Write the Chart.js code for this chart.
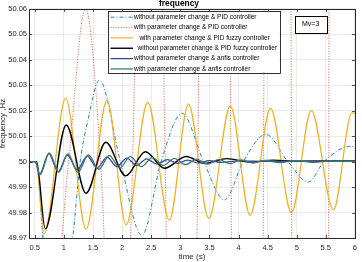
<!DOCTYPE html>
<html><head><meta charset="utf-8">
<script src="https://cdn.jsdelivr.net/npm/chart.js@4/dist/chart.umd.min.js"></script>
<style>html,body{margin:0;padding:0;background:#fff;overflow:hidden}</style>
</head><body>
<canvas id="c" width="362" height="262"></canvas>
<script>
// ---- data ----
const seriesNames = [
  'without parameter change & PID controller',
  'with parameter change & PID controller',
  '   with parameter change & PID fuzzy controller',
  '  without parameter change & PID fuzzy controller',
  'without parameter change & anfis controller',
  'with parameter change & anfis controller'
];
const xTicks = [0.5, 1, 1.5, 2, 2.5, 3, 3.5, 4, 4.5, 5, 5.5, 6];
const yTicks = [49.97, 49.98, 49.99, 50, 50.01, 50.02, 50.03, 50.04, 50.05, 50.06];
const noteText = 'Mv=3';

// without parameter change & PID controller
const t1 = [0.4, 0.53, 0.64, 0.9, 1.15, 1.28, 1.41, 1.61, 1.97, 2.34, 2.67, 3.03, 3.4, 3.76, 4.08, 4.47, 4.85, 5.2, 5.47, 5.92, 6.0];
const v1 = [50, 50, 49.97, 49.935, 49.97, 50, 50.016, 50.032, 50, 49.971, 50, 50.019, 50, 49.985, 50, 50.0107, 50, 49.992, 50, 50.006, 50.0058];
// with parameter change & PID controller
const t2 = [0.4, 0.5, 0.8, 1.08, 1.37, 1.63, 1.93, 2.18, 2.45, 2.74, 3.02, 3.3, 3.58, 3.87, 4.15, 4.43, 4.67, 4.91, 5.23, 5.55, 5.8, 6.0];
const v2 = [50, 50, 49.94, 50, 50.06, 50, 49.85, 50, 50.3, 50, 49.5, 50, 50.8, 50, 48.8, 50, 51.6, 50, 47.8, 50, 53, 51];
// with parameter change & PID fuzzy controller
const t3 = [0.4, 0.52, 0.66, 1.03, 1.38, 1.74, 2.07, 2.44, 2.81, 3.14, 3.49, 3.86, 4.2, 4.55, 4.91, 5.25, 5.63, 5.95, 6.0];
const v3 = [50, 50, 49.9717, 50.0249, 49.9735, 50.0242, 49.9752, 50.0233, 49.977, 50.0226, 49.9777, 50.0218, 49.979, 50.0209, 49.98, 50.02, 49.981, 50.0192, 50.019];
// without parameter change & PID fuzzy controller
const t4 = [0.4, 0.53, 0.68, 1.04, 1.38, 1.72, 2.06, 2.4, 2.73, 3.1, 3.42, 3.8, 4.2, 4.6, 5.0, 6.0];
const v4 = [50, 50, 49.9736, 50.0144, 49.9876, 50.0076, 49.9944, 50.0039, 49.9974, 50.002, 49.9993, 50.0012, 49.9998, 50.0006, 50.0002, 50.0003];
// without parameter change & anfis controller
const t5 = [0.4, 0.51, 0.58, 0.74, 0.9, 1.06, 1.23, 1.4, 1.57, 1.74, 1.91, 2.08, 2.25, 2.42, 2.6, 2.78, 2.95, 3.12, 3.3, 3.5, 3.7, 4.0, 4.5, 5.0, 6.0];
const v5 = [50, 50, 49.995, 50.0032, 49.996, 50.0026, 49.9968, 50.0022, 49.9975, 50.0018, 49.998, 50.0014, 49.9985, 50.0011, 49.999, 50.0008, 49.9993, 50.0006, 49.9995, 50.0004, 49.9997, 50.0003, 50.0001, 50.0002, 50.0001];
// with parameter change & anfis controller
const t6 = [0.4, 0.51, 0.59, 0.75, 0.91, 1.07, 1.24, 1.42, 1.6, 1.78, 1.96, 2.14, 2.33, 2.52, 2.71, 2.9, 3.09, 3.28, 3.47, 3.66, 3.85, 4.05, 4.25, 4.45, 4.7, 5.0, 5.3, 5.6, 6.0];
const v6 = [50, 50, 49.9948, 50.0034, 49.9958, 50.003, 49.9958, 50.0026, 49.997, 50.0024, 49.9975, 50.002, 49.998, 50.0016, 49.9985, 50.0013, 49.9988, 50.001, 49.999, 50.0009, 49.9992, 50.0007, 49.9994, 50.0005, 49.9996, 50.0004, 49.9997, 50.0003, 50.0001];

const times = [t1, t2, t3, t4, t5, t6];
const values = [v1, v2, v3, v4, v5, v6];

// ---- styles ----
const colors = ['#2a7fc4', '#d9603a', '#edb120', '#000000', '#34479a', '#3d7d6b'];
const widths = [1, 1, 1.2, 1.4, 1.3, 1.3];
const dashes = [[4, 2, 1, 2], [1, 1.6], [], [], [], []];
const FONT = '"Liberation Sans", Arial, sans-serif';

const datasets = seriesNames.map((name, i) => ({
  label: name,
  data: times[i].map((t, k) => ({ x: t, y: values[i][k] })),
  borderColor: colors[i],
  backgroundColor: colors[i],
  borderWidth: widths[i],
  borderDash: dashes[i],
  pointRadius: 0,
  fill: false,
  cubicInterpolationMode: 'monotone',
  order: 5 - i
}));

const decor = {
  id: 'decor',
  afterDraw(chart) {
    const { ctx, chartArea: ca, scales } = chart;
    ctx.save();
    // inward ticks
    ctx.strokeStyle = '#262626';
    ctx.lineWidth = 0.8;
    ctx.beginPath();
    xTicks.forEach(v => {
      const px = Math.round(scales.x.getPixelForValue(v)) + 0.5;
      ctx.moveTo(px, ca.bottom); ctx.lineTo(px, ca.bottom - 3);
      ctx.moveTo(px, ca.top); ctx.lineTo(px, ca.top + 3);
    });
    yTicks.forEach(v => {
      const py = Math.round(scales.y.getPixelForValue(v)) + 0.5;
      ctx.moveTo(ca.left, py); ctx.lineTo(ca.left + 3, py);
      ctx.moveTo(ca.right, py); ctx.lineTo(ca.right - 3, py);
    });
    ctx.stroke();
    // axes box
    ctx.lineWidth = 1;
    ctx.strokeRect(Math.round(ca.left) + 0.5, Math.round(ca.top) + 0.5,
      Math.round(ca.right - ca.left), Math.round(ca.bottom - ca.top));

    // legend
    const lx = ca.left + 78.5, ly = ca.top + 2, lw = 171.5, lh = 61.5;
    ctx.fillStyle = '#fff';
    ctx.fillRect(lx, ly, lw, lh);
    ctx.strokeStyle = '#000';
    ctx.lineWidth = 0.8;
    ctx.strokeRect(Math.round(lx) + 0.5, Math.round(ly) + 0.5, Math.round(lw), Math.round(lh));
    ctx.font = '6.5px ' + FONT;
    ctx.textBaseline = 'middle';
    ctx.textAlign = 'left';
    chart.data.datasets.forEach((ds, i) => {
      const ry = ly + 6.3 + i * 10.35;
      ctx.strokeStyle = ds.borderColor;
      ctx.lineWidth = ds.borderWidth;
      ctx.setLineDash(ds.borderDash || []);
      ctx.beginPath();
      ctx.moveTo(lx + 3, ry); ctx.lineTo(lx + 25.5, ry);
      ctx.stroke();
      ctx.setLineDash([]);
      ctx.fillStyle = '#000';
      ctx.fillText(ds.label, lx + 26.5, ry);
    });

    // note box
    const nx = ca.right - 60, ny = ca.top + 7, nw = 31.5, nh = 17;
    ctx.fillStyle = '#fff';
    ctx.fillRect(nx, ny, nw, nh);
    ctx.strokeStyle = '#000';
    ctx.lineWidth = 1;
    ctx.strokeRect(Math.round(nx) + 0.5, Math.round(ny) + 0.5, Math.round(nw), Math.round(nh));
    ctx.fillStyle = '#000';
    ctx.font = '7px ' + FONT;
    ctx.textAlign = 'center';
    ctx.fillText(noteText, nx + nw / 2, ny + nh / 2);
    ctx.restore();
  }
};

new Chart(document.getElementById('c'), {
  type: 'line',
  data: { datasets },
  plugins: [decor],
  options: {
    responsive: false,
    animation: false,
    devicePixelRatio: 1,
    layout: { padding: { left: 0, right: 4, top: 0, bottom: 0 } },
    plugins: {
      legend: { display: false },
      tooltip: { enabled: false },
      title: {
        display: true,
        text: 'frequency',
        color: '#000',
        font: { family: FONT, size: 8.4, weight: 'bold', lineHeight: 1 },
        padding: { top: -1, bottom: 1.5 }
      }
    },
    scales: {
      x: {
        type: 'linear',
        min: 0.4,
        max: 6,
        afterBuildTicks: s => { s.ticks = xTicks.map(v => ({ value: v })); },
        afterFit: s => { s.height = 24; },
        ticks: {
          autoSkip: false, maxRotation: 0, padding: 5, color: '#262626',
          font: { family: FONT, size: 7.5 },
          callback: v => String(v)
        },
        grid: { color: '#e4e4e4', lineWidth: 0.8, drawTicks: false },
        border: { display: false },
        title: {
          display: true, text: 'time (s)', color: '#262626',
          font: { family: FONT, size: 8 }, padding: { top: 0, bottom: 0 }
        }
      },
      y: {
        type: 'linear',
        min: 49.97,
        max: 50.06,
        afterBuildTicks: s => { s.ticks = yTicks.map(v => ({ value: v })); },
        afterFit: s => { s.width = 29; },
        ticks: {
          autoSkip: false, padding: 2, color: '#262626',
          font: { family: FONT, size: 7.5 },
          callback: v => String(Math.round(v * 100) / 100)
        },
        grid: { color: '#e4e4e4', lineWidth: 0.8, drawTicks: false },
        border: { display: false },
        title: {
          display: true, text: 'frequency ,Hz', color: '#262626',
          font: { family: FONT, size: 8 }, padding: { top: -2, bottom: 0 }
        }
      }
    }
  }
});
</script>
</body></html>
